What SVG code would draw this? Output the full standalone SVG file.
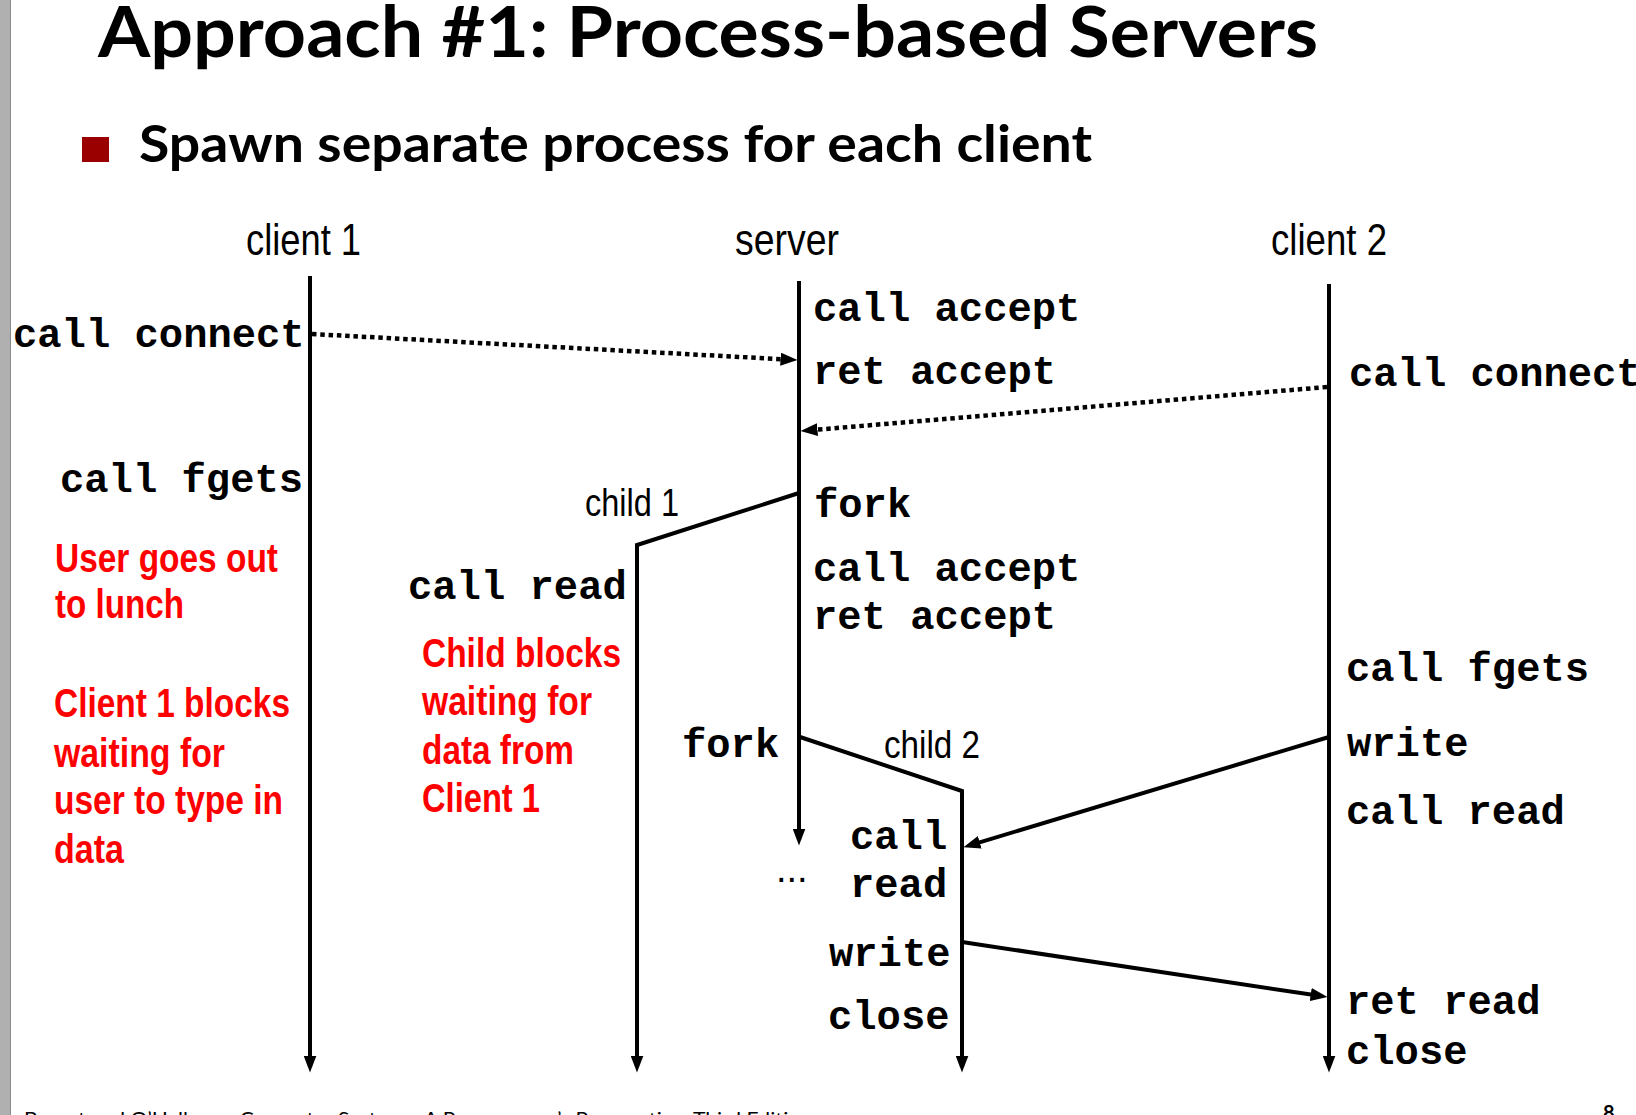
<svg xmlns="http://www.w3.org/2000/svg" width="1636" height="1115" viewBox="0 0 1636 1115">
  <defs>
    <marker id="ah" viewBox="0 0 17 13" markerWidth="17" markerHeight="13" refX="10.5" refY="6.5" orient="auto" markerUnits="userSpaceOnUse">
      <path d="M0,0 L17,6.5 L0,13 z" fill="#000"/>
    </marker>
    <style>
      .life { stroke:#000; stroke-width:4; fill:none; }
      .msg { stroke:#000; stroke-width:4; fill:none; }
      .dot { stroke:#000; stroke-width:4.5; fill:none; stroke-dasharray:4.5 3.8; }
      .code { font-family:"Liberation Mono","Courier New",monospace; font-weight:bold; font-size:40.5px; fill:#000; }
      .head { font-family:"Liberation Sans",Arial,sans-serif; font-size:44px; fill:#000; }
      .sub { font-family:"Liberation Sans",Arial,sans-serif; font-size:38px; fill:#000; }
      .note { font-family:"Liberation Sans",Arial,sans-serif; font-weight:bold; font-size:40px; fill:#ff0000; }
      .title { font-family:Lato,"Open Sans",sans-serif; font-weight:bold; fill:#000; }
    </style>
  </defs>
  <rect x="0" y="0" width="1636" height="1115" fill="#ffffff"/>
  <rect x="0" y="0" width="10" height="1115" fill="#b0b0b0"/>
  <line x1="10.5" y1="0" x2="10.5" y2="1115" stroke="#8a8a8a" stroke-width="1"/>

  <g id="title">
    <text class="title" x="98" y="57" font-size="70" textLength="1220" lengthAdjust="spacingAndGlyphs">Approach #1: Process-based Servers</text>
    <rect x="82" y="137" width="27" height="25" fill="#9b0000"/>
    <text class="title" x="139" y="162" font-size="52" textLength="953" lengthAdjust="spacingAndGlyphs">Spawn separate process for each client</text>
  </g>

  <g id="client1">
    <text class="head" x="246" y="255" textLength="115" lengthAdjust="spacingAndGlyphs">client 1</text>
    <line class="life" x1="310" y1="276" x2="310" y2="1066" marker-end="url(#ah)"/>
    <text class="code" x="13" y="347">call connect</text>
    <text class="code" x="60" y="492">call fgets</text>
    <text class="note" x="55" y="572" textLength="223" lengthAdjust="spacingAndGlyphs">User goes out</text>
    <text class="note" x="55" y="618" textLength="129" lengthAdjust="spacingAndGlyphs">to lunch</text>
    <text class="note" x="54" y="717" textLength="236" lengthAdjust="spacingAndGlyphs">Client 1 blocks</text>
    <text class="note" x="54" y="767" textLength="171" lengthAdjust="spacingAndGlyphs">waiting for</text>
    <text class="note" x="54" y="814" textLength="229" lengthAdjust="spacingAndGlyphs">user to type in</text>
    <text class="note" x="54" y="863" textLength="70" lengthAdjust="spacingAndGlyphs">data</text>
  </g>

  <g id="server">
    <text class="head" x="735" y="255" textLength="104" lengthAdjust="spacingAndGlyphs">server</text>
    <line class="life" x1="799" y1="281" x2="799" y2="839" marker-end="url(#ah)"/>
    <text class="code" x="813" y="321">call accept</text>
    <text class="code" x="813" y="384">ret accept</text>
    <text class="code" x="814" y="517">fork</text>
    <text class="code" x="813" y="581">call accept</text>
    <text class="code" x="813" y="629">ret accept</text>
    <text class="code" x="682" y="757">fork</text>
    <text class="sub" x="776" y="882" font-size="30">...</text>
  </g>

  <g id="child1">
    <text class="sub" x="585" y="516" textLength="94" lengthAdjust="spacingAndGlyphs">child 1</text>
    <path class="life" d="M799,493 L637,545 L637,1066" marker-end="url(#ah)"/>
    <text class="code" x="408" y="599">call read</text>
    <text class="note" x="422" y="667" textLength="199" lengthAdjust="spacingAndGlyphs">Child blocks</text>
    <text class="note" x="422" y="715" textLength="170" lengthAdjust="spacingAndGlyphs">waiting for</text>
    <text class="note" x="422" y="764" textLength="152" lengthAdjust="spacingAndGlyphs">data from</text>
    <text class="note" x="422" y="812" textLength="118" lengthAdjust="spacingAndGlyphs">Client 1</text>
  </g>

  <g id="child2">
    <text class="sub" x="884" y="758" textLength="96" lengthAdjust="spacingAndGlyphs">child 2</text>
    <path class="life" d="M800,737 L962,791 L962,1066" marker-end="url(#ah)"/>
    <text class="code" x="850" y="849">call</text>
    <text class="code" x="850" y="897">read</text>
    <text class="code" x="829" y="966">write</text>
    <text class="code" x="828" y="1029">close</text>
  </g>

  <g id="client2">
    <text class="head" x="1271" y="255" textLength="116" lengthAdjust="spacingAndGlyphs">client 2</text>
    <line class="life" x1="1329" y1="284" x2="1329" y2="1066" marker-end="url(#ah)"/>
    <text class="code" x="1349" y="386">call connect</text>
    <text class="code" x="1346" y="681">call fgets</text>
    <text class="code" x="1347" y="756">write</text>
    <text class="code" x="1346" y="824">call read</text>
    <text class="code" x="1346" y="1014">ret read</text>
    <text class="code" x="1346" y="1064">close</text>
  </g>

  <g id="connectors">
    <line class="dot" x1="312" y1="334" x2="791" y2="359.7" marker-end="url(#ah)"/>
    <line class="dot" x1="1327" y1="387" x2="807" y2="430.5" marker-end="url(#ah)"/>
    <line class="msg" x1="1329" y1="737" x2="969.7" y2="845.3" marker-end="url(#ah)"/>
    <line class="msg" x1="962" y1="942" x2="1321.1" y2="996.1" marker-end="url(#ah)"/>
  </g>

  <g id="footer">
    <text x="24" y="1126" font-family="Lato,'Open Sans',sans-serif" font-size="20" fill="#000" textLength="788" lengthAdjust="spacingAndGlyphs">Bryant and O’Hallaron, Computer Systems: A Programmer’s Perspective, Third Edition</text>
    <text x="1603" y="1120" font-family="Lato,'Open Sans',sans-serif" font-weight="bold" font-size="20" fill="#000">8</text>
  </g>
</svg>
